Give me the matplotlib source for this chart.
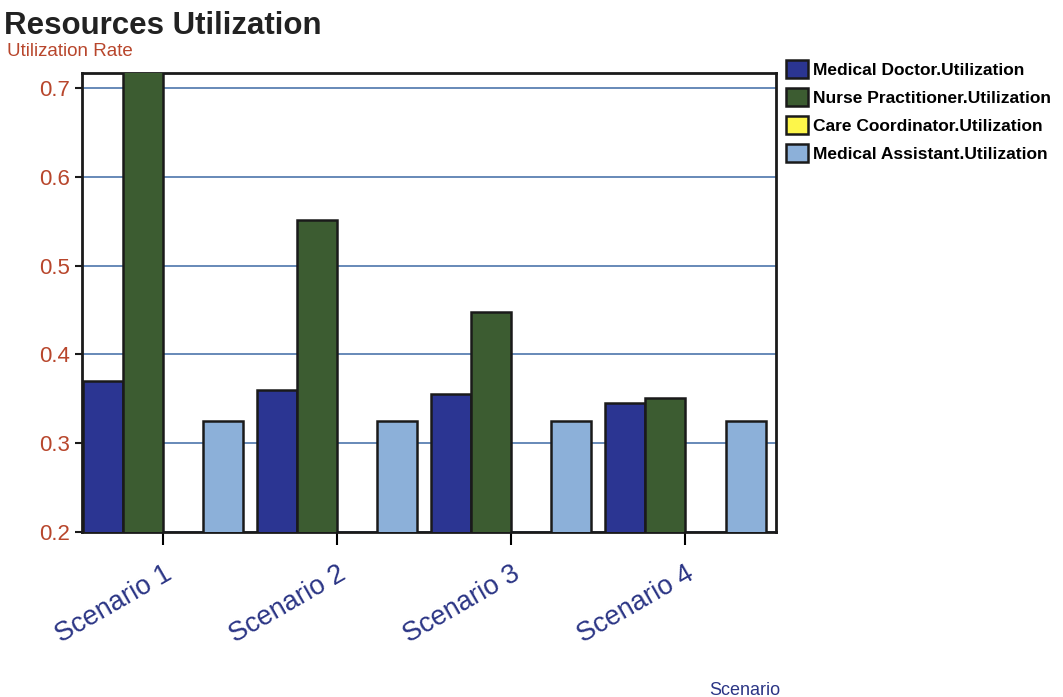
import numpy as np
import matplotlib
matplotlib.use('Agg')
import matplotlib.pyplot as plt

plt.rcParams['font.family'] = ['Liberation Sans', 'DejaVu Sans']

scenarios = ['Scenario 1', 'Scenario 2', 'Scenario 3', 'Scenario 4']
series = ['Medical Doctor.Utilization', 'Nurse Practitioner.Utilization',
          'Care Coordinator.Utilization', 'Medical Assistant.Utilization']
doctor = [0.370, 0.360, 0.355, 0.345]
nurse = [0.725, 0.551, 0.448, 0.351]
coordinator = [0.10, 0.10, 0.10, 0.10]
assistant = [0.325, 0.325, 0.325, 0.325]
colors = ['#2b3592', '#3c5c31', '#fdf64a', '#8cb0d9']

fig = plt.figure(figsize=(10.63, 6.97), dpi=100)
ax = fig.add_axes([82 / 1063, 1 - 532 / 697, 694 / 1063, 459 / 697])

x = np.arange(len(scenarios))
w = 0.23
values = [doctor, nurse, coordinator, assistant]
for i, (vals, name, c) in enumerate(zip(values, series, colors)):
    ax.bar(x + (i - 1.5) * w, vals, w, color=c, edgecolor='#1a1a1a',
           linewidth=1.8, label=name, zorder=3)

ax.set_ylim(0.2, 0.717)
ax.set_xlim(-0.466, 3.52)
ax.set_yticks([0.2, 0.3, 0.4, 0.5, 0.6, 0.7])
ax.set_yticklabels(['0.2', '0.3', '0.4', '0.5', '0.6', '0.7'])
ax.yaxis.grid(True, color='#5b80b2', linewidth=1.3, zorder=0)
ax.set_axisbelow(True)
ax.tick_params(axis='y', colors='#1a1a1a', labelcolor='#b8462c', labelsize=16,
               length=5, width=1.5, pad=4)
ax.set_xticks(x)
ax.set_xticklabels(scenarios, rotation=30, ha='right', rotation_mode='anchor',
                   color='#2b3585', fontsize=19.5)
ax.tick_params(axis='x', length=9, width=1.5, pad=12)
for s in ax.spines.values():
    s.set_linewidth(2)
    s.set_color('#1a1a1a')

fig.text(4 / 1063, 1 - 34 / 697, 'Resources Utilization', fontsize=22.5,
         fontweight='bold', color='#222222')
fig.text(7 / 1063, 1 - 56 / 697, 'Utilization Rate', fontsize=13.5,
         color='#b8462c')
fig.text(745 / 1063, 1 - 695 / 697, 'Scenario', fontsize=13,
         color='#2b3585', ha='center')

fig.legend(loc='upper left', bbox_to_anchor=(786 / 1063, 1 - 60 / 697),
           frameon=False, prop={'size': 12.5, 'weight': 'bold'},
           handlelength=1.25, handleheight=1.25, handletextpad=0.3,
           labelspacing=0.55, borderaxespad=0, borderpad=0)

fig.savefig('out.png', dpi=100)
